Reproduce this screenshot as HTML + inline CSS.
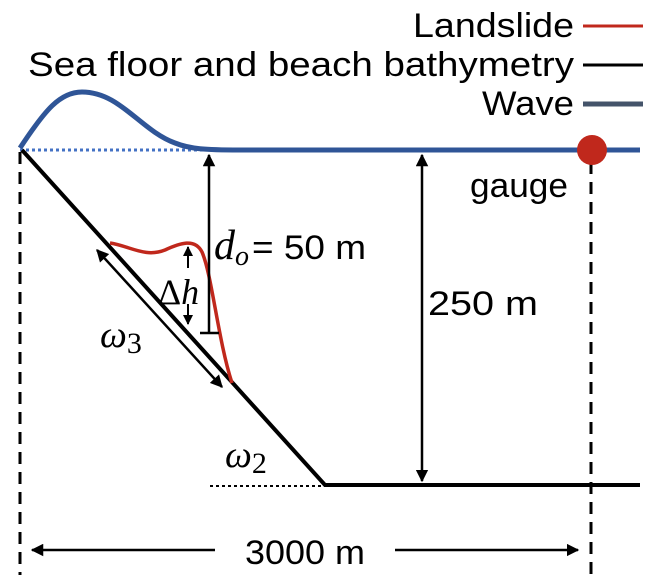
<!DOCTYPE html>
<html><head><meta charset="utf-8"><style>
html,body{margin:0;padding:0;background:#fff;}
svg{display:block;font-family:"Liberation Sans",sans-serif;}
</style></head><body>
<svg width="660" height="580" viewBox="0 0 660 580">
<defs>
<marker id="ah" viewBox="0 0 10 10" refX="9" refY="5" markerWidth="5" markerHeight="5" orient="auto-start-reverse"><path d="M0,0 L10,5 L0,10 z" fill="#000"/></marker>
</defs>
<g>
<text x="574" y="37" font-size="34" text-anchor="end" textLength="161" lengthAdjust="spacingAndGlyphs">Landslide</text>
<line x1="583" y1="26" x2="643" y2="26" stroke="#c0281c" stroke-width="3"/>
<text x="574" y="76" font-size="34" text-anchor="end" textLength="546" lengthAdjust="spacingAndGlyphs">Sea floor and beach bathymetry</text>
<line x1="583" y1="65" x2="643" y2="65" stroke="#000" stroke-width="3"/>
<text x="574" y="115" font-size="34" text-anchor="end" textLength="92" lengthAdjust="spacingAndGlyphs">Wave</text>
<line x1="583" y1="104" x2="643" y2="104" stroke="#44546a" stroke-width="5"/>
</g>
<line x1="20" y1="150" x2="205" y2="150" stroke="#4472c4" stroke-width="3" stroke-dasharray="3,3"/>
<path d="M20,148 C45,110 60,92 82,92 C120,92 140,130 175,143 C190,149 205,150 240,150 L640,150" fill="none" stroke="#2f5597" stroke-width="5"/>
<line x1="20" y1="152" x2="20" y2="575" stroke="#000" stroke-width="3" stroke-dasharray="12,8"/>
<line x1="591" y1="162" x2="591" y2="575" stroke="#000" stroke-width="3" stroke-dasharray="12,8"/>
<path d="M22,150 L325,485 L640,485" fill="none" stroke="#000" stroke-width="4"/>
<line x1="210" y1="486" x2="325" y2="486" stroke="#000" stroke-width="2" stroke-dasharray="3,3"/>
<path d="M110,243 C130,246 145,258 165,250 C180,243 195,238 202,252 C212,275 218,340 232,383" fill="none" stroke="#c0281c" stroke-width="3.5"/>
<circle cx="592" cy="150" r="15" fill="#c0281c"/>
<text x="470" y="197" font-size="34" textLength="98" lengthAdjust="spacingAndGlyphs">gauge</text>
<line x1="209" y1="333" x2="209" y2="155" stroke="#000" stroke-width="2.5" marker-end="url(#ah)"/>
<line x1="200" y1="333" x2="219" y2="333" stroke="#000" stroke-width="2.5"/>
<text x="214" y="259" font-size="34"><tspan font-family="Liberation Serif,serif" font-style="italic" font-size="42">d</tspan><tspan font-family="Liberation Serif,serif" font-style="italic" font-size="28" dy="6">o</tspan><tspan dy="-6" dx="3" textLength="114" lengthAdjust="spacingAndGlyphs">= 50 m</tspan></text>
<line x1="422" y1="155" x2="422" y2="481" stroke="#000" stroke-width="2.5" marker-start="url(#ah)" marker-end="url(#ah)"/>
<text x="428" y="315" font-size="34" textLength="110" lengthAdjust="spacingAndGlyphs">250 m</text>
<line x1="188" y1="247" x2="188" y2="324" stroke="#000" stroke-width="2" marker-start="url(#ah)" marker-end="url(#ah)"/>
<rect x="170" y="268" width="34" height="36" fill="#fff"/>
<text x="158" y="304" font-size="36" font-family="Liberation Serif,serif">Δ<tspan font-style="italic">h</tspan></text>
<line x1="97" y1="250" x2="222" y2="387" stroke="#000" stroke-width="2.5" marker-start="url(#ah)" marker-end="url(#ah)"/>
<text x="100" y="347" font-size="38" font-family="Liberation Serif,serif" font-style="italic">ω<tspan font-style="normal" font-size="30" dy="6">3</tspan></text>
<text x="225" y="467" font-size="38" font-family="Liberation Serif,serif" font-style="italic">ω<tspan font-style="normal" font-size="30" dy="6">2</tspan></text>
<line x1="215" y1="550" x2="32" y2="550" stroke="#000" stroke-width="2.5" marker-end="url(#ah)"/>
<line x1="395" y1="550" x2="578" y2="550" stroke="#000" stroke-width="2.5" marker-end="url(#ah)"/>
<text x="305" y="564" font-size="34" text-anchor="middle" textLength="120" lengthAdjust="spacingAndGlyphs">3000 m</text>
</svg>
</body></html>
